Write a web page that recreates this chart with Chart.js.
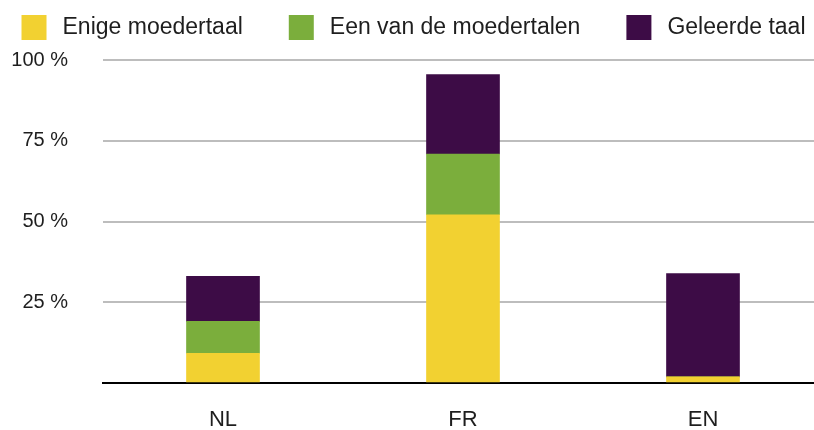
<!DOCTYPE html>
<html>
<head>
<meta charset="utf-8">
<script src="https://cdn.jsdelivr.net/npm/chart.js@4"></script>
<style>
  html, body { margin: 0; padding: 0; background: #fff; overflow: hidden; }
  #wrap { width: 814px; height: 430px; overflow: hidden; }
</style>
</head>
<body>
<div id="wrap"><canvas id="myChart" width="823" height="430"></canvas></div>
<script>
const ctx = document.getElementById('myChart');

// waarden (in %)
const categories = ['NL', 'FR', 'EN'];
const enigeMoedertaal = [9.2, 52.1, 1.9];
const eenVanDeMoedertalen = [9.9, 18.8, 0];
const geleerdeTaal = [13.9, 24.6, 32.0];
const yTicks = [0, 25, 50, 75, 100];

const FONT = "'Liberation Sans', Arial, sans-serif";

const data = {
    labels: categories,
    datasets: [
        { label: 'Enige moedertaal', data: enigeMoedertaal, backgroundColor: '#f2d131' },
        { label: 'Een van de moedertalen', data: eenVanDeMoedertalen, backgroundColor: '#7bae3c' },
        { label: 'Geleerde taal', data: geleerdeTaal, backgroundColor: '#3d0c46' }
    ]
};

// legende bovenaan, zelf getekend (vakje 25px, 16px tot de tekst, ~46px tussen items)
const eigenLegende = {
    id: 'eigenLegende',
    afterDraw(chart) {
        const c = chart.ctx;
        c.save();
        c.font = '23px ' + FONT;
        c.textBaseline = 'middle';
        const items = chart.data.datasets.map(ds => ({
            tekst: ds.label,
            kleur: ds.backgroundColor,
            w: c.measureText(ds.label).width
        }));
        const totaal = items.reduce((s, it) => s + 25 + 16 + it.w, 0) + 46 * (items.length - 1);
        let x = 413.5 - totaal / 2;
        items.forEach(it => {
            c.fillStyle = it.kleur;
            c.fillRect(x, 15, 25, 25);
            c.fillStyle = '#1e1e1e';
            c.fillText(it.tekst, x + 41, 28);
            x += 41 + it.w + 46;
        });
        c.restore();
    }
};

var myChart = new Chart(ctx, {
    type: 'bar',
    data: data,
    plugins: [eigenLegende],
    options: {
        responsive: false,
        animation: false,
        layout: {
            padding: { left: 0, right: 0, top: 60, bottom: 0 }
        },
        datasets: {
            bar: { barThickness: 73, borderWidth: 0 }
        },
        scales: {
            x: {
                stacked: true,
                grid: { display: false, drawTicks: false },
                border: { display: true, color: '#000', width: 2 },
                ticks: { color: '#1e1e1e', font: { family: FONT, size: 22 }, padding: 24 },
                afterFit: (s) => { s.height = 44; }
            },
            y: {
                stacked: true,
                min: 0,
                max: 100,
                afterBuildTicks: (s) => { s.ticks = yTicks.map(v => ({ value: v })); },
                grid: {
                    drawTicks: false,
                    color: (c) => c.tick && c.tick.value === 0 ? 'rgba(0,0,0,0)' : '#bdbdbd',
                    lineWidth: 2
                },
                border: { display: false },
                ticks: {
                    color: '#1e1e1e',
                    font: { family: FONT, size: 20 },
                    padding: 35,
                    callback: (v) => v === 0 ? '' : v + ' %'
                },
                afterFit: (s) => { s.width = 103; }
            }
        },
        plugins: {
            tooltip: { enabled: false },
            legend: { display: false }
        }
    }
});
</script>
</body>
</html>
